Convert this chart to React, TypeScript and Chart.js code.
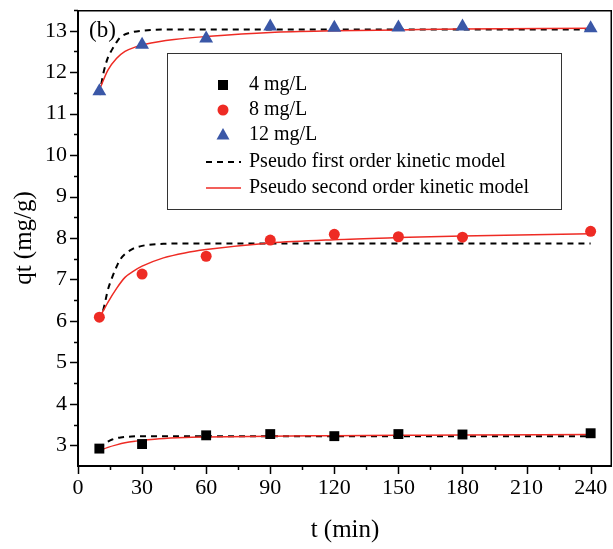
import React, { useEffect, useRef } from 'react';
import { Chart, registerables } from 'chart.js';

Chart.register(...registerables);

const SERIF = '"Liberation Serif", "Times New Roman", serif';

// Experimental data
const tExp = [10, 30, 60, 90, 120, 150, 180, 240];
const q4 = [2.92, 3.03, 3.24, 3.27, 3.22, 3.27, 3.26, 3.29];
const q8 = [6.09, 7.13, 7.56, 7.95, 8.09, 8.03, 8.02, 8.16];
const q12 = [11.54, 12.66, 12.81, 13.1, 13.07, 13.08, 13.1, 13.06];

// Pseudo first order model curves
const pfoT4 = [10, 12, 14, 16, 20, 25, 30, 40, 240];
const pfoQ4 = [2.92, 3.02, 3.09, 3.14, 3.19, 3.21, 3.22, 3.22, 3.22];
const pfoT8 = [10, 12, 14, 16, 18, 20, 25, 30, 40, 60, 240];
const pfoQ8 = [6.0, 6.3, 6.75, 7.05, 7.3, 7.5, 7.72, 7.81, 7.86, 7.87, 7.87];
const pfoT12 = [10, 12, 14, 16, 18, 20, 25, 30, 40, 60, 240];
const pfoQ12 = [11.45, 12.0, 12.35, 12.55, 12.72, 12.85, 12.96, 13.0, 13.03, 13.03, 13.03];

// Pseudo second order model curves
const psoT4 = [10, 14, 18, 22, 27, 32, 38, 50, 60, 90, 120, 150, 180, 240];
const psoQ4 = [2.87, 2.95, 3.01, 3.06, 3.1, 3.13, 3.16, 3.19, 3.2, 3.22, 3.23, 3.24, 3.25, 3.26];
const psoT8 = [10, 14, 18, 22, 26, 30, 40, 50, 60, 90, 120, 150, 180, 240];
const psoQ8 = [6.07, 6.45, 6.78, 7.05, 7.2, 7.32, 7.52, 7.64, 7.72, 7.88, 7.96, 8.01, 8.05, 8.1];
const psoT12 = [10, 14, 18, 22, 27, 32, 37, 45, 60, 90, 120, 150, 180, 240];
const psoQ12 = [11.57, 12.05, 12.33, 12.5, 12.61, 12.68, 12.73, 12.79, 12.86, 12.96, 13.0, 13.02, 13.04, 13.06];

const xTickValues = [0, 30, 60, 90, 120, 150, 180, 210, 240];
const yTickValues = [3, 4, 5, 6, 7, 8, 9, 10, 11, 12, 13];

const legendLabels = ['4 mg/L', '8 mg/L', '12 mg/L', 'Pseudo first order kinetic model', 'Pseudo second order kinetic model'];

const RED = '#ee2b24';
const BLUE = '#3a57a7';

const pts = (xs: number[], ys: number[]) => xs.map((x, i) => ({ x, y: ys[i] }));

const decorPlugin = {
  id: 'decor',
  afterDraw(chart: any) {
    const ctx = chart.ctx;
    const { left, right, top, bottom } = chart.chartArea;
    const xs = chart.scales.x;
    const ys = chart.scales.y;
    ctx.save();
    ctx.setLineDash([]);
    ctx.strokeStyle = '#000';
    // frame: top & right thinner, left & bottom heavier
    ctx.lineWidth = 1.5;
    ctx.beginPath();
    ctx.moveTo(left, top + 0.75);
    ctx.lineTo(right - 0.75, top + 0.75);
    ctx.lineTo(right - 0.75, bottom);
    ctx.stroke();
    ctx.lineWidth = 2;
    ctx.beginPath();
    ctx.moveTo(left, top);
    ctx.lineTo(left, bottom);
    ctx.lineTo(right, bottom);
    ctx.stroke();
    // ticks
    ctx.lineWidth = 1.5;
    ctx.beginPath();
    for (let v = 0; v <= 240; v += 15) {
      const p = Math.round(xs.getPixelForValue(v)) + 0.5;
      const len = v % 30 === 0 ? 8 : 4;
      ctx.moveTo(p, bottom);
      ctx.lineTo(p, bottom + len);
    }
    for (let v = 3; v <= 13.5; v += 0.5) {
      const p = Math.round(ys.getPixelForValue(v)) + 0.5;
      const len = v % 1 === 0 ? 8 : 4;
      ctx.moveTo(left, p);
      ctx.lineTo(left - len, p);
    }
    ctx.stroke();

    // panel label
    ctx.fillStyle = '#000';
    ctx.font = `23px ${SERIF}`;
    ctx.textBaseline = 'middle';
    ctx.textAlign = 'left';
    ctx.fillText('(b)', 89, 31);

    // legend
    const bx = 167, by = 53, bw = 394, bh = 156;
    ctx.fillStyle = '#fff';
    ctx.fillRect(bx, by, bw, bh);
    ctx.strokeStyle = '#333';
    ctx.lineWidth = 1;
    ctx.strokeRect(bx + 0.5, by + 0.5, bw, bh);
    const rows = [85, 110, 135, 162, 188];
    const mx = 223;
    ctx.fillStyle = '#000';
    ctx.fillRect(mx - 5, rows[0] - 5, 10, 10);
    ctx.fillStyle = RED;
    ctx.beginPath();
    ctx.arc(mx, rows[1], 5.5, 0, Math.PI * 2);
    ctx.fill();
    ctx.fillStyle = BLUE;
    ctx.beginPath();
    ctx.moveTo(mx, rows[2] - 7);
    ctx.lineTo(mx + 6.5, rows[2] + 4.5);
    ctx.lineTo(mx - 6.5, rows[2] + 4.5);
    ctx.closePath();
    ctx.fill();
    ctx.strokeStyle = '#000';
    ctx.lineWidth = 2;
    ctx.setLineDash([6, 5]);
    ctx.beginPath();
    ctx.moveTo(206, rows[3]);
    ctx.lineTo(241, rows[3]);
    ctx.stroke();
    ctx.setLineDash([]);
    ctx.strokeStyle = RED;
    ctx.lineWidth = 1.5;
    ctx.beginPath();
    ctx.moveTo(206, rows[4]);
    ctx.lineTo(241, rows[4]);
    ctx.stroke();
    ctx.fillStyle = '#000';
    ctx.font = `20px ${SERIF}`;
    legendLabels.forEach((t, i) => ctx.fillText(t, 249, rows[i]));
    ctx.restore();
  },
};

export default function App() {
  const ref = useRef<HTMLCanvasElement>(null);
  useEffect(() => {
    document.body.style.margin = '0';
    const curve = (xs: number[], ys: number[], color: string, dashed: boolean, w: number) => ({
      data: pts(xs, ys),
      borderColor: color,
      borderWidth: w,
      borderDash: dashed ? [6, 5] : [],
      pointRadius: 0,
      showLine: true,
      fill: false,
      cubicInterpolationMode: 'monotone' as const,
    });
    const marks = (ys: number[], style: string, r: number, color: string) => ({
      data: pts(tExp, ys),
      showLine: false,
      pointStyle: style,
      pointRadius: r,
      pointBackgroundColor: color,
      pointBorderColor: color,
      pointBorderWidth: 0,
      borderColor: color,
      backgroundColor: color,
      clip: false,
    });
    const chart = new Chart(ref.current!, {
      type: 'line',
      data: {
        datasets: [
          marks(q4, 'rect', 7, '#000'),
          marks(q8, 'circle', 5.5, RED),
          marks(q12, 'triangle', 8, BLUE),
          curve(psoT4, psoQ4, RED, false, 1.5),
          curve(psoT8, psoQ8, RED, false, 1.5),
          curve(psoT12, psoQ12, RED, false, 1.5),
          curve(pfoT4, pfoQ4, '#000', true, 2),
          curve(pfoT8, pfoQ8, '#000', true, 2),
          curve(pfoT12, pfoQ12, '#000', true, 2),
        ] as any,
      },
      options: {
        responsive: false,
        animation: false,
        layout: { autoPadding: false, padding: { top: 10, right: 1, left: 0, bottom: 0 } },
        plugins: { legend: { display: false }, tooltip: { enabled: false } },
        scales: {
          x: {
            type: 'linear',
            min: 0,
            max: 250,
            afterBuildTicks: (s: any) => {
              s.ticks = xTickValues.map((v) => ({ value: v }));
            },
            afterFit: (s: any) => {
              s.height = 83;
              s.paddingLeft = 0;
              s.paddingRight = 0;
            },
            ticks: {
              font: { family: SERIF, size: 22 },
              color: '#000',
              padding: 9,
              maxRotation: 0,
              autoSkip: false,
            },
            grid: { display: false, drawTicks: false, tickLength: 0 },
            border: { display: false },
            title: {
              display: true,
              text: 't (min)',
              font: { family: SERIF, size: 25 },
              color: '#000',
              padding: { top: 0, bottom: 4 },
            },
          },
          y: {
            type: 'linear',
            min: 2.5,
            max: 13.5,
            afterBuildTicks: (s: any) => {
              s.ticks = yTickValues.map((v) => ({ value: v }));
            },
            afterFit: (s: any) => {
              s.width = 78;
              s.paddingTop = 0;
              s.paddingBottom = 0;
            },
            ticks: {
              font: { family: SERIF, size: 22 },
              color: '#000',
              padding: 11,
              autoSkip: false,
            },
            grid: { display: false, drawTicks: false, tickLength: 0 },
            border: { display: false },
            title: {
              display: true,
              text: 'qt (mg/g)',
              font: { family: SERIF, size: 25 },
              color: '#000',
              padding: { top: 9, bottom: 0 },
            },
          },
        },
      } as any,
      plugins: [decorPlugin],
    });
    return () => chart.destroy();
  }, []);
  return (
    <div style={{ width: 613, height: 549 }}>
      <canvas ref={ref} width={613} height={549} style={{ display: 'block', width: 613, height: 549 }} />
    </div>
  );
}
